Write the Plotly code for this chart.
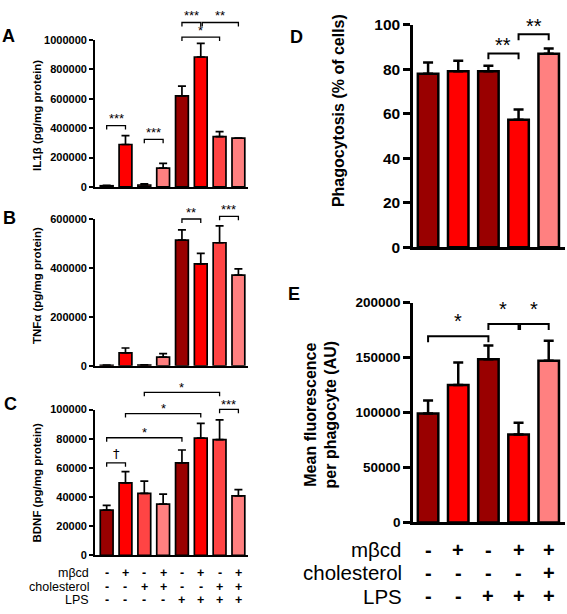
import plotly.graph_objects as go

W, H = 567, 614
FONT = "Liberation Sans"

DARK, RED, MED, PINK = "#990000", "#FF0000", "#FF4444", "#FF8080"

# ---------------- data ----------------
il1b_mean = [8000, 289000, 13000, 128000, 620000, 885000, 342000, 333000]
il1b_err = [2000, 60000, 8000, 33000, 67000, 93000, 35000, 0]

tnfa_mean = [2000, 53000, 3000, 36000, 514000, 417000, 503000, 371000]
tnfa_err = [1000, 20000, 1000, 14000, 42000, 43000, 69000, 25000]

bdnf_mean = [31000, 49800, 42500, 35200, 63500, 80500, 79400, 40900]
bdnf_err = [3300, 7700, 8400, 6800, 8800, 10000, 13500, 4200]

phago_mean = [77.9, 79.0, 79.0, 57.2, 86.9]
phago_err = [5.1, 4.7, 2.5, 4.7, 2.3]

fluor_mean = [99100, 125000, 148500, 80000, 147000]
fluor_err = [11800, 20600, 12400, 10600, 18300]

colors8 = [DARK, RED, MED, PINK, DARK, RED, MED, PINK]
colors5 = [DARK, RED, DARK, RED, PINK]

# conditions
cond_rows = ["m\u03b2cd", "cholesterol", "LPS"]
cond8 = [["-", "+", "-", "+", "-", "+", "-", "+"],
         ["-", "-", "+", "+", "-", "-", "+", "+"],
         ["-", "-", "-", "-", "+", "+", "+", "+"]]
cond5 = [["-", "+", "-", "+", "+"],
         ["-", "-", "-", "-", "+"],
         ["-", "-", "+", "+", "+"]]

# significance brackets: (bar i, bar j, bracket height in data units, label)
sig_A = [(0, 1, 417000, "***"), (2, 3, 324500, "***"), (4, 5, 1120000, "***"),
         (5.08, 7, 1120000, "**"), (4, 6, 1020000, "*")]
sig_B = [(4, 5, 600000, "**"), (6, 7, 611000, "***")]
sig_C = [(0, 1, 63500, "\u2020"), (0, 4, 80700, "*"), (1, 5, 97300, "*"),
         (2, 6, 111800, "*"), (6, 7, 100200, "***")]
sig_D = [(2, 3, 87.0, "**"), (3, 4, 95.6, "**")]
sig_E = [(0, 2, 169300, "*"), (2, 3, 180500, "*"), (3.05, 4, 180500, "*")]

# ---------------- panel geometry (pixels) ----------------
panels = {
    "A": dict(x=(95, 248), y=(32, 183), ymax=1e6, dtick=200000, xr=(-0.62, 7.51)),
    "B": dict(x=(95, 248), y=(216, 367), ymax=6e5, dtick=200000, xr=(-0.62, 7.51)),
    "C": dict(x=(95, 248), y=(412, 562), ymax=1e5, dtick=20000, xr=(-0.62, 7.51)),
    "D": dict(x=(413, 565), y=(16, 245), ymax=100, dtick=20, xr=(-0.5, 4.54)),
    "E": dict(x=(413, 565), y=(302, 528), ymax=2e5, dtick=50000, xr=(-0.5, 4.54)),
}
series = {
    "A": (il1b_mean, il1b_err, colors8, sig_A),
    "B": (tnfa_mean, tnfa_err, colors8, sig_B),
    "C": (bdnf_mean, bdnf_err, colors8, sig_C),
    "D": (phago_mean, phago_err, colors5, sig_D),
    "E": (fluor_mean, fluor_err, colors5, sig_E),
}


def px2x(p):
    return p / W


def px2y(p):
    return 1 - p / H


def val2py(name, v):
    g = panels[name]
    top, bot = g["y"]
    return px2y(bot - v / g["ymax"] * (bot - top))


fig = go.Figure()
shapes, annos = [], []

for k, name in enumerate(["A", "B", "C", "D", "E"]):
    g = panels[name]
    mean, err, cols, sigs = series[name]
    big = name in ("D", "E")
    lw = 2.5 if big else 1.7
    sfx = "" if k == 0 else str(k + 1)
    xa, ya = "x" + sfx, "y" + sfx
    n = len(mean)
    fig.add_trace(go.Bar(
        x=list(range(n)), y=mean, xaxis=xa, yaxis=ya,
        marker=dict(color=cols, line=dict(color="black", width=lw)),
        width=0.68,
        error_y=dict(type="data", symmetric=False, array=err,
                     arrayminus=[0] * n, color="black",
                     thickness=lw, width=5 if big else 4),
        showlegend=False, hoverinfo="skip",
    ))
    tickfs = 15.5 if name == "D" else (13.5 if name == "E" else 11)
    layout_x = dict(domain=[px2x(g["x"][0]), px2x(g["x"][1])], range=list(g["xr"]),
                    showline=True, linecolor="black", linewidth=lw,
                    showticklabels=False, ticks="", showgrid=False, zeroline=False,
                    anchor=ya, fixedrange=True)
    layout_y = dict(domain=[px2y(g["y"][1]), px2y(g["y"][0])], range=[0, g["ymax"]],
                    showline=True, linecolor="black", linewidth=lw,
                    ticks="outside", ticklen=7 if big else 4, tickwidth=lw,
                    tickcolor="black", dtick=g["dtick"], tick0=0,
                    tickformat="d", showgrid=False, zeroline=False,
                    tickfont=dict(family=FONT, size=tickfs, color="black", weight="bold"),
                    anchor=xa, fixedrange=True)
    fig.update_layout(**{"xaxis" + sfx: layout_x, "yaxis" + sfx: layout_y})

    # brackets
    drop = 6 if big else 4
    sfs = 20 if big else 13
    gap = {"A": 7, "B": 7, "C": 5, "D": 8.5, "E": 16}[name]
    for (i, j, h, lab) in sigs:
        yb = val2py(name, h)
        yd = yb - drop / H
        bl = 2 if big else 1.3
        shapes.append(dict(type="path", xref=xa, yref="paper",
                           path=f"M {i},{yd} L {i},{yb} L {j},{yb} L {j},{yd}",
                           line=dict(color="black", width=bl)))
        dag = lab == "\u2020"
        annos.append(dict(x=(i + j) / 2, xref=xa, y=yb + (gap + (5 if dag else 0)) / H,
                          yref="paper", text=lab, showarrow=False,
                          xanchor="center", yanchor="middle",
                          font=dict(family="DejaVu Sans" if dag else FONT,
                                    size=13 if dag else sfs, color="#000000")))

# conditions under C
for r, lab in enumerate(cond_rows):
    ypx = [580, 594, 608][r]
    annos.append(dict(x=px2x(91), y=px2y(ypx), xref="paper", yref="paper", text=lab,
                      showarrow=False, xanchor="right", yanchor="middle",
                      font=dict(family=FONT, size=12.5, color="black")))
    for i, s in enumerate(cond8[r]):
        annos.append(dict(x=i, xref="x3", y=px2y(ypx), yref="paper", text=s,
                          showarrow=False, xanchor="center", yanchor="middle",
                          font=dict(family=FONT, size=12.5, color="black", weight="bold")))
# conditions under E
for r, lab in enumerate(cond_rows):
    ypx = [556, 580, 604][r]
    annos.append(dict(x=px2x(404), y=px2y(ypx), xref="paper", yref="paper", text=lab,
                      showarrow=False, xanchor="right", yanchor="middle",
                      font=dict(family=FONT, size=20.5, color="black")))
    for i, s in enumerate(cond5[r]):
        annos.append(dict(x=i, xref="x5", y=px2y(ypx), yref="paper", text=s,
                          showarrow=False, xanchor="center", yanchor="middle",
                          font=dict(family=FONT, size=20, color="black", weight="bold")))

# axis titles
titles = [
    ("IL1\u03b2 (pg/mg protein)", 37, 110, 11.5),
    ("TNF\u03b1 (pg/mg protein)", 37, 285, 11.5),
    ("BDNF (pg/mg protein)", 37, 487, 11.5),
    ("Phagocytosis (% of cells)", 338, 105, 16),
    ("Mean fluorescence<br>per phagocyte (AU)", 321, 417, 16),
]
for t, xp, yp, fs in titles:
    annos.append(dict(x=px2x(xp), y=px2y(yp), xref="paper", yref="paper", text=t,
                      textangle=-90, showarrow=False, xanchor="center", yanchor="middle",
                      font=dict(family=FONT, size=fs, color="black", weight="bold")))

# panel letters
letters = [("A", 8, 28), ("B", 9, 215), ("C", 10, 406), ("D", 296, 29), ("E", 294, 293)]
for t, xp, yp in letters:
    annos.append(dict(x=px2x(xp), y=px2y(yp), xref="paper", yref="paper", text=t,
                      showarrow=False, xanchor="center", yanchor="middle",
                      font=dict(family=FONT, size=18, color="black", weight="bold")))

fig.update_layout(width=W, height=H, margin=dict(l=0, r=0, t=0, b=0),
                  paper_bgcolor="white", plot_bgcolor="white",
                  shapes=shapes, annotations=annos, bargap=0.3)
fig.write_html("out.html", config={"displayModeBar": False},
               post_script="document.body.style.margin='0';document.body.style.padding='0';"
                           "document.documentElement.style.overflow='hidden';"
                           "document.body.style.overflow='hidden';")
